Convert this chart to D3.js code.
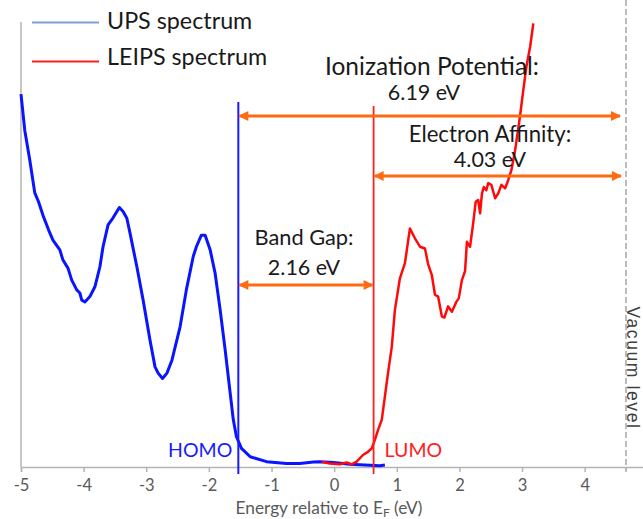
<!DOCTYPE html>
<html>
<head>
<meta charset="utf-8">
<script src="https://cdn.jsdelivr.net/npm/d3@7"></script>
<style>
  html, body { margin: 0; padding: 0; background: #fff; }
  svg { display: block; font-family: Lato, "Open Sans", sans-serif; }
</style>
</head>
<body>
<div id="chart"></div>
<script>
// UPS spectrum (occupied states), energy in eV vs. intensity (arb. units)
const upsEnergy = [-5.00, -4.94, -4.86, -4.78, -4.72, -4.64, -4.56, -4.49, -4.38, -4.33, -4.25, -4.19, -4.11, -4.06, -4.03, -3.98,
  -3.90, -3.82, -3.74, -3.69, -3.61, -3.53, -3.43, -3.37, -3.31, -3.26, -3.15, -3.05, -2.94, -2.86, -2.81, -2.74,
  -2.67, -2.59, -2.46, -2.36, -2.25, -2.20, -2.12, -2.06, -1.98, -1.90, -1.82, -1.74, -1.66, -1.61, -1.56, -1.48,
  -1.34, -1.08, -0.76, -0.55, -0.33, -0.23, -0.01, 0.25, 0.73, 0.81];
const upsIntensity = [83.8, 75.7, 69.0, 61.6, 59.6, 56.2, 53.3, 51.0, 48.8, 46.5, 44.7, 42.0, 39.8, 39.1, 37.5, 37.1,
  38.3, 40.5, 45.0, 49.5, 54.4, 56.0, 58.3, 57.4, 55.9, 52.6, 45.0, 37.5, 28.5, 22.5, 21.1, 19.9,
  21.1, 24.0, 31.5, 39.8, 47.3, 49.5, 52.1, 52.1, 48.8, 43.5, 35.3, 26.3, 16.6, 10.6, 6.8, 4.2,
  2.3, 1.2, 0.8, 0.8, 1.1, 1.2, 1.0, 0.6, 0.3, 0.45];

// LEIPS spectrum (unoccupied states)
const leipsEnergy = [-0.20, -0.07, 0.09, 0.20, 0.28, 0.36, 0.46, 0.54, 0.60, 0.65, 0.70, 0.76, 0.81, 0.86, 0.92, 0.97,
  1.05, 1.13, 1.21, 1.29, 1.37, 1.45, 1.50, 1.56, 1.61, 1.66, 1.72, 1.76, 1.82, 1.88, 1.95, 1.99,
  2.04, 2.09, 2.12, 2.17, 2.22, 2.26, 2.30, 2.33, 2.36, 2.39, 2.43, 2.46, 2.51, 2.57, 2.62, 2.67,
  2.73, 2.78, 2.83, 2.89, 2.97, 3.02, 3.07, 3.13, 3.18];
const leipsIntensity = [1.2, 0.8, 0.6, 1.0, 0.6, 1.2, 2.7, 3.4, 4.2, 6.1, 8.3, 10.6, 15.8, 21.1, 27.0, 35.3,
  42.4, 45.8, 53.6, 51.4, 49.5, 49.1, 45.6, 43.1, 38.7, 38.3, 33.8, 33.6, 36.1, 34.9, 37.1, 37.9,
  42.0, 44.0, 50.6, 49.5, 54.8, 59.6, 60.0, 57.0, 61.5, 62.9, 62.2, 63.8, 63.4, 60.4, 61.5, 63.4,
  62.6, 64.5, 66.7, 71.2, 79.1, 84.7, 90.0, 94.5, 99.7];

const xTicks = [-5, -4, -3, -2, -1, 0, 1, 2, 3, 4];

// Energy levels (eV relative to Fermi level)
const homo = -1.53;
const bandGap = 2.16;
const ionizationPotential = 6.19;
const lumo = homo + bandGap;
const vacuum = homo + ionizationPotential;
const electronAffinity = vacuum - lumo;

const W = 643, H = 519;
const svg = d3.select("#chart").append("svg").attr("width", W).attr("height", H);

const x = d3.scaleLinear().domain([-5, 5]).range([21, 647.3]);
const y = d3.scaleLinear().domain([0, 100]).range([467, 22]);

const ORANGE = "#ff6a10";
const defs = svg.append("defs");
["start", "end"].forEach(k => {
  defs.append("marker")
    .attr("id", "arrow-" + k)
    .attr("viewBox", "0 0 10 10")
    .attr("refX", k === "end" ? 9 : 1).attr("refY", 5)
    .attr("markerUnits", "userSpaceOnUse")
    .attr("markerWidth", 11).attr("markerHeight", 10)
    .attr("orient", "auto")
    .append("path")
    .attr("d", k === "end" ? "M0,0 L10,5 L0,10 Z" : "M10,0 L0,5 L10,10 Z")
    .attr("fill", ORANGE);
});

// Axes
const AXIS = "#b4b4b4";
svg.append("line").attr("x1", x(-5)).attr("x2", x(-5)).attr("y1", 22).attr("y2", y(0))
  .attr("stroke", AXIS).attr("stroke-width", 1.5);

const xAxis = svg.append("g").attr("transform", `translate(0,${y(0)})`)
  .call(d3.axisBottom(x).tickValues(xTicks).tickSize(5).tickPadding(7).tickFormat(d3.format("d")));
xAxis.select(".domain").attr("stroke", AXIS).attr("stroke-width", 1.5);
xAxis.selectAll(".tick line").attr("stroke", AXIS).attr("stroke-width", 1.5);
xAxis.selectAll(".tick text").attr("fill", "#595959").attr("font-size", 16.5)
  .attr("font-family", "Lato, sans-serif").text(d => d < 0 ? "-" + Math.abs(d) : d);

const title = svg.append("text").attr("x", 329).attr("y", 514).attr("text-anchor", "middle")
  .attr("fill", "#595959").attr("font-size", 17.3);
title.append("tspan").text("Energy relative to E");
title.append("tspan").attr("font-size", 12).attr("dy", 3).text("F");
title.append("tspan").attr("dy", -3).text(" (eV)");

// Vacuum level
svg.append("line").attr("x1", x(vacuum)).attr("x2", x(vacuum)).attr("y1", 0).attr("y2", y(0) + 5)
  .attr("stroke", "#a6a6a6").attr("stroke-width", 1.5).attr("stroke-dasharray", "6,3");
svg.append("text").attr("transform", `translate(${x(vacuum) + 1},368) rotate(90)`)
  .attr("text-anchor", "middle").attr("fill", "#404040").attr("font-size", 17.5)
  .attr("font-family", "'Liberation Sans', Arial, sans-serif")
  .attr("letter-spacing", 1.6).text("Vacuum level");

// Spectra
const line = d3.line().x(d => x(d[0])).y(d => y(d[1])).curve(d3.curveLinear);
svg.append("path").datum(upsEnergy.map((e, i) => [e, upsIntensity[i]]))
  .attr("d", line).attr("fill", "none").attr("stroke", "#0a14ff").attr("stroke-width", 3)
  .attr("stroke-linejoin", "round");
svg.append("path").datum(leipsEnergy.map((e, i) => [e, leipsIntensity[i]]))
  .attr("d", line).attr("fill", "none").attr("stroke", "#ff0a0a").attr("stroke-width", 2.5)
  .attr("stroke-linejoin", "round");

// HOMO / LUMO markers
svg.append("line").attr("x1", x(homo)).attr("x2", x(homo)).attr("y1", 102).attr("y2", y(0) + 7)
  .attr("stroke", "#1a1aff").attr("stroke-width", 2);
svg.append("line").attr("x1", x(lumo)).attr("x2", x(lumo)).attr("y1", 106).attr("y2", y(0) + 7)
  .attr("stroke", "#ff2020").attr("stroke-width", 1.8);

svg.append("text").attr("x", x(homo) - 6).attr("y", 457).attr("text-anchor", "end")
  .attr("fill", "#1a1aff").attr("font-size", 19.5).text("HOMO");
svg.append("text").attr("x", x(lumo) + 11).attr("y", 457).attr("text-anchor", "start")
  .attr("fill", "#ff2020").attr("font-size", 19.5).text("LUMO");

// Double-headed arrows
function arrow(e0, e1, yy, inset) {
  svg.append("line").attr("x1", x(e0) + 1).attr("x2", x(e1) - inset).attr("y1", yy).attr("y2", yy)
    .attr("stroke", ORANGE).attr("stroke-width", 3)
    .attr("marker-start", "url(#arrow-start)").attr("marker-end", "url(#arrow-end)");
}
arrow(homo, vacuum, 116, 6);
arrow(lumo, vacuum, 176, 5);
arrow(homo, lumo, 285, 1);

function label(cx, yy, txt, size) {
  svg.append("text").attr("x", cx).attr("y", yy).attr("text-anchor", "middle")
    .attr("fill", "#1a1a1a").attr("font-size", size).text(txt);
}
label(432, 75, "Ionization Potential:", 24.5);
label(424, 100, ionizationPotential.toFixed(2) + " eV", 21.5);
label(490, 142, "Electron Affinity:", 22.2);
label(490, 167, electronAffinity.toFixed(2) + " eV", 21.5);
label(304, 245, "Band Gap:", 21.8);
label(304, 275, bandGap.toFixed(2) + " eV", 21.5);

// Legend
const legend = [
  { name: "UPS spectrum", color: "#7aa0d8", y: 22.5, ty: 28.5 },
  { name: "LEIPS spectrum", color: "#ff2020", y: 61.5, ty: 65 }
];
legend.forEach(l => {
  svg.append("line").attr("x1", 32).attr("x2", 99).attr("y1", l.y).attr("y2", l.y)
    .attr("stroke", l.color).attr("stroke-width", 2);
  svg.append("text").attr("x", 107).attr("y", l.ty).attr("fill", "#1a1a1a").attr("font-size", 23.3).text(l.name);
});
</script>
</body>
</html>
